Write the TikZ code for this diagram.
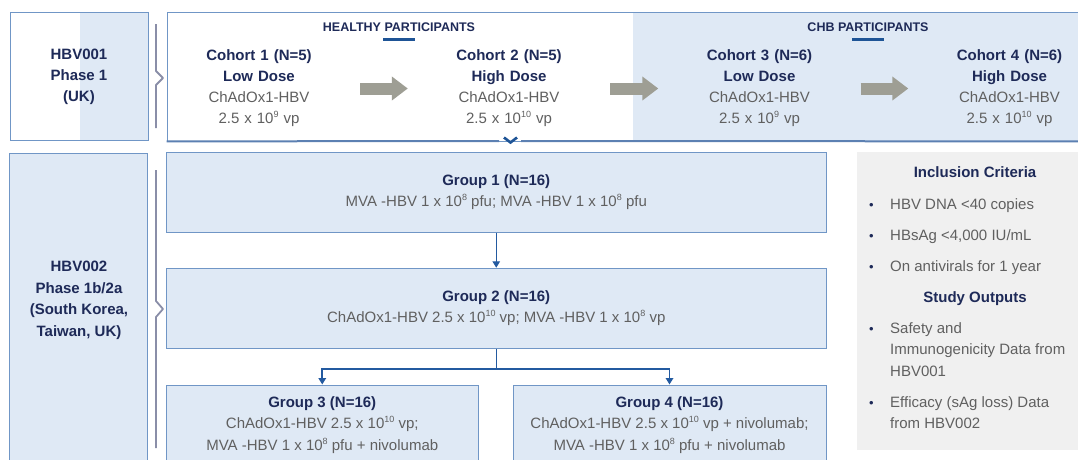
\documentclass[tikz,border=0pt]{standalone}
\usepackage{fontspec}
\setmainfont{Liberation Sans}
\usetikzlibrary{positioning,arrows.meta}

\definecolor{navytext}{RGB}{30,42,88}
\definecolor{graytext}{RGB}{96,96,96}
\definecolor{boxblue}{RGB}{112,150,198}
\definecolor{edgeblue}{RGB}{92,128,178}
\definecolor{lightfill}{RGB}{223,233,245}
\definecolor{barblue}{RGB}{30,84,150}
\definecolor{flowblue}{RGB}{35,90,160}
\definecolor{bracegray}{RGB}{138,142,168}
\definecolor{panelgray}{RGB}{240,240,240}
\definecolor{arrowgray}{RGB}{158,158,148}

\newcommand{\hdline}[1]{\textcolor{navytext}{\bfseries #1}}
\newcommand{\tenp}[1]{10\raisebox{0.42em}{\fontsize{9}{9}\selectfont #1}}

\tikzset{
  sidebox/.style={draw=boxblue, line width=1pt, fill=lightfill, inner sep=0pt},
  sidetext/.style={align=center, text=navytext, font=\fontsize{15}{21}\selectfont\bfseries},
  cohort/.style={align=center, text width=130pt, inner sep=0pt, text=graytext, font=\fontsize{15}{21}\selectfont},
  grouphead/.style={font=\fontsize{12.5}{14}\selectfont\bfseries, text=navytext, inner sep=0pt},
  hbar/.style={fill=barblue, minimum width=32pt, minimum height=3.5pt, inner sep=0pt},
  bigarrow/.style={arrowgray, line width=12pt, -{Triangle[length=16pt,width=23pt]}, shorten <=36pt, shorten >=36pt},
  groupbox/.style={draw=boxblue, line width=1pt, fill=lightfill, align=center, text=graytext, font=\fontsize{15}{21.5}\selectfont, inner sep=0pt},
  flow/.style={flowblue, line width=1.8pt, -{Triangle[length=6.5pt,width=7.5pt]}},
  brace/.style={bracegray, line width=1.8pt, line join=round},
  panelhead/.style={font=\fontsize{15}{21}\selectfont\bfseries, text=navytext, inner sep=0pt, anchor=base},
  item/.style={font=\fontsize{15}{21.5}\selectfont, text=graytext, inner sep=0pt, align=left},
  bul/.style={font=\fontsize{13}{15}\selectfont, text=navytext, inner sep=0pt, anchor=base}
}

\begin{document}
\begin{tikzpicture}[x=1pt, y=-1pt]
\useasboundingbox (0,0) rectangle (1078,459);

% HBV001 row
\node[sidebox, fill=white, minimum width=138pt, minimum height=128pt, sidetext,
  path picture={\fill[lightfill] ([xshift=70pt]path picture bounding box.south west) rectangle (path picture bounding box.north east);}]
  (hbv1) at (79,76.5) {HBV001\\Phase 1\\(UK)};
\draw[brace] (156,24) -- (156,71) -- (163,78) -- (156,85) -- (156,128);

\node[draw=boxblue, line width=0.8pt, fill=white, minimum width=920pt, minimum height=128.5pt, inner sep=0pt,
  path picture={\fill[lightfill] ([xshift=466pt]path picture bounding box.south west) rectangle (path picture bounding box.north east);}]
  (topbox) at (627,76.75) {};
\draw[edgeblue, line width=2pt] (topbox.south west) -- (499,141) (521,141) -- (topbox.south east);
\draw[barblue, line width=2.6pt] (504,137.5) -- (510.5,142.5) -- (517,137.5);

\node[grouphead] (healthy) at (399,27) {HEALTHY PARTICIPANTS};
\node[hbar, below=6pt of healthy] (healthybar) {};
\node[grouphead] (chb) at (868,27) {CHB PARTICIPANTS};
\node[hbar, below=6pt of chb] (chbbar) {};

\node[cohort] (c1) at (259,88.5) {\hdline{Cohort 1 (N=5)}\\\hdline{Low Dose}\\ChAdOx1-HBV\\2.5 x \tenp{9} vp};
\node[cohort] (c2) at (509,88.5) {\hdline{Cohort 2 (N=5)}\\\hdline{High Dose}\\ChAdOx1-HBV\\2.5 x \tenp{10} vp};
\node[cohort] (c3) at (759.5,88.5) {\hdline{Cohort 3 (N=6)}\\\hdline{Low Dose}\\ChAdOx1-HBV\\2.5 x \tenp{9} vp};
\node[cohort] (c4) at (1009.5,88.5) {\hdline{Cohort 4 (N=6)}\\\hdline{High Dose}\\ChAdOx1-HBV\\2.5 x \tenp{10} vp};

\draw[bigarrow] (c1) -- (c2);
\draw[bigarrow] (c2) -- (c3);
\draw[bigarrow] (c3) -- (c4);

% HBV002 row
\node[sidebox, anchor=north, minimum width=138pt, minimum height=330pt] (hbv2) at (78.5,152.5) {};
\node[sidetext, font=\fontsize{15}{21.6}\selectfont\bfseries] (hbv2text) at (79,300.5) {HBV002\\Phase 1b/2a\\(South Korea,\\Taiwan, UK)};
\draw[brace] (156,170) -- (156,301) -- (163,309) -- (156,317) -- (156,448);

\node[groupbox, minimum width=659.5pt, minimum height=80pt] (g1) at (496.25,192)
  {\hdline{Group 1 (N=16)}\\MVA -HBV 1 x \tenp{8} pfu; MVA -HBV 1 x \tenp{8} pfu};
\node[groupbox, minimum width=659.5pt, minimum height=80pt] (g2) at (496.25,308.25)
  {\hdline{Group 2 (N=16)}\\ChAdOx1-HBV 2.5 x \tenp{10} vp; MVA -HBV 1 x \tenp{8} vp};
\node[groupbox, minimum width=311.5pt, minimum height=80pt] (g3) at (322.25,425)
  {\hdline{Group 3 (N=16)}\\ChAdOx1-HBV 2.5 x \tenp{10} vp;\\MVA -HBV 1 x \tenp{8} pfu + nivolumab};
\node[groupbox, minimum width=313pt, minimum height=80pt] (g4) at (669.5,425)
  {\hdline{Group 4 (N=16)}\\ChAdOx1-HBV 2.5 x \tenp{10} vp + nivolumab;\\MVA -HBV 1 x \tenp{8} pfu + nivolumab};

\draw[flow, line width=1.2pt] (g1) -- (g2);
\draw[flowblue, line width=1.2pt] (g2.south) -- ++(0,20) coordinate (split);
\draw[flow] (split) -| (g3.north);
\draw[flow] (split) -| (g4.north);

% criteria panel
\node[fill=panelgray, anchor=north west, minimum width=230pt, minimum height=298pt, inner sep=0pt] (side) at (857,152) {};
\node[panelhead] (incl) at (975,177.4) {Inclusion Criteria};
\node[bul] (b1) at (871.5,209.4) {\textbullet};
\node[item, anchor=base west] (i1) at (890,209.4) {HBV DNA <40 copies};
\node[bul] (b2) at (871.5,240.4) {\textbullet};
\node[item, anchor=base west] (i2) at (890,240.4) {HBsAg <4,000 IU/mL};
\node[bul] (b3) at (871.5,271.4) {\textbullet};
\node[item, anchor=base west] (i3) at (890,271.4) {On antivirals for 1 year};
\node[panelhead] (outs) at (975,302.4) {Study Outputs};
\node[bul] (b4) at (871.5,333.4) {\textbullet};
\node[item, anchor=north west] (i4) at (890,322.4) {Safety and\\Immunogenicity Data from\\HBV001};
\node[bul] (b5) at (871.5,407.4) {\textbullet};
\node[item, anchor=north west] (i5) at (890,396.4) {Efficacy (sAg loss) Data\\from HBV002};
\end{tikzpicture}
\end{document}
